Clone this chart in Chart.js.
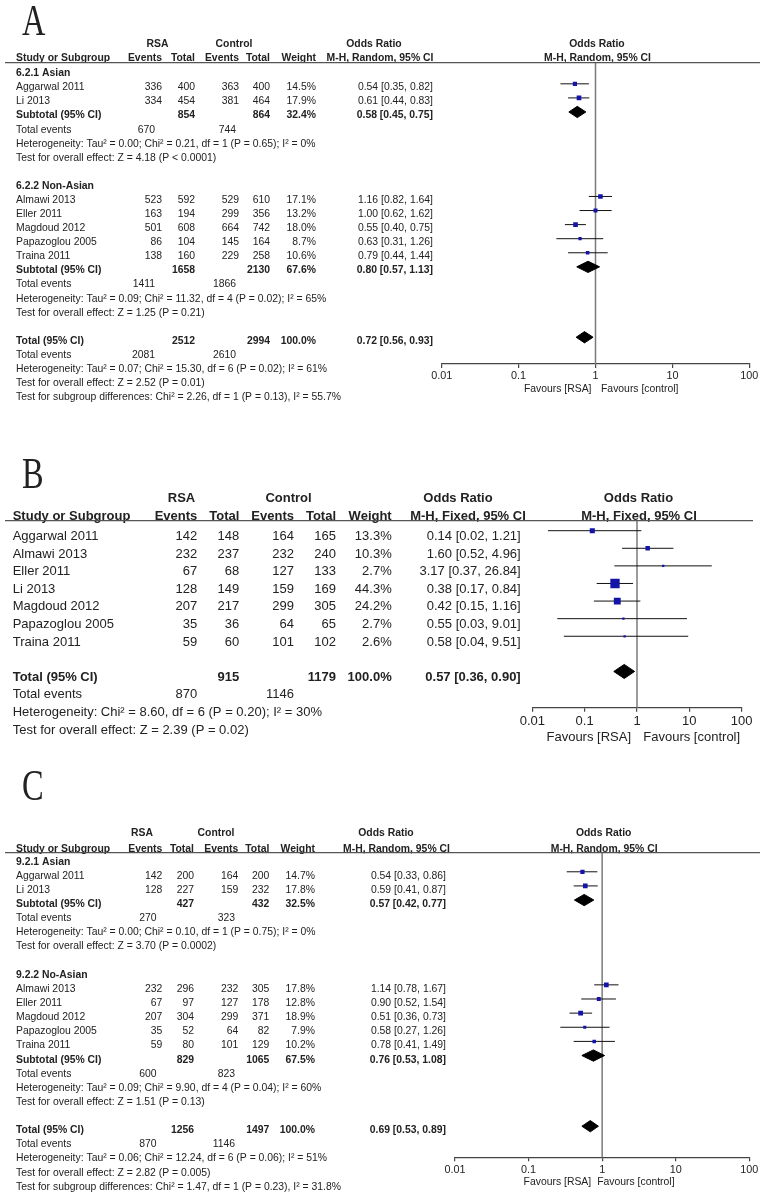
<!DOCTYPE html>
<html>
<head>
<meta charset="utf-8">
<script src="https://cdn.jsdelivr.net/npm/chart.js@4.4.1/dist/chart.umd.min.js"></script>
<style>
    body { margin: 0; background: #fff; width: 762px; height: 1199px; position: relative; overflow: hidden; }
    canvas { position: absolute; left: 0; }
</style>
</head>
<body>
<canvas id="chartA" width="762" height="410" style="top:0px"></canvas>
<canvas id="chartB" width="762" height="340" style="top:420px"></canvas>
<canvas id="chartC" width="762" height="439" style="top:760px"></canvas>
<script>
const SANS = '"Liberation Sans", Arial, sans-serif';
const SERIF = '"Liberation Serif", "Times New Roman", serif';

// Axis ticks (log scale of odds ratio)
const tickValues = [0.01, 0.1, 1, 10, 100];
const tickLabels = ["0.01", "0.1", "1", "10", "100"];

// ---------- Panel A : M-H, Random ----------
const studiesA = ["Aggarwal 2011", "Li 2013", "Almawi 2013", "Eller 2011", "Magdoud 2012", "Papazoglou 2005", "Traina 2011"];
const groupA = [0, 0, 1, 1, 1, 1, 1];
const rsaEventsA = [336, 334, 523, 163, 501, 86, 138];
const rsaTotalA = [400, 454, 592, 194, 608, 104, 160];
const ctlEventsA = [363, 381, 529, 299, 664, 145, 229];
const ctlTotalA = [400, 464, 610, 356, 742, 164, 258];
const weightA = [14.5, 17.9, 17.1, 13.2, 18.0, 8.7, 10.6];
const orA = [0.54, 0.61, 1.16, 1.00, 0.55, 0.63, 0.79];
const lowA = [0.35, 0.44, 0.82, 0.62, 0.40, 0.31, 0.44];
const highA = [0.82, 0.83, 1.64, 1.62, 0.75, 1.26, 1.44];
// subgroups + overall (last entry)
const subgroupsA = ["6.2.1 Asian", "6.2.2 Non-Asian"];
const poolRsaTotalA = [854, 1658, 2512];
const poolCtlTotalA = [864, 2130, 2994];
const poolWeightA = [32.4, 67.6, 100.0];
const poolOrA = [0.58, 0.80, 0.72];
const poolLowA = [0.45, 0.57, 0.56];
const poolHighA = [0.75, 1.13, 0.93];
const poolRsaEventsA = [670, 1411, 2081];
const poolCtlEventsA = [744, 1866, 2610];
const hetA = [
    "Heterogeneity: Tau² = 0.00; Chi² = 0.21, df = 1 (P = 0.65); I² = 0%",
    "Heterogeneity: Tau² = 0.09; Chi² = 11.32, df = 4 (P = 0.02); I² = 65%",
    "Heterogeneity: Tau² = 0.07; Chi² = 15.30, df = 6 (P = 0.02); I² = 61%",
];
const effectA = [
    "Test for overall effect: Z = 4.18 (P < 0.0001)",
    "Test for overall effect: Z = 1.25 (P = 0.21)",
    "Test for overall effect: Z = 2.52 (P = 0.01)",
];
const subgroupTestA = "Test for subgroup differences: Chi² = 2.26, df = 1 (P = 0.13), I² = 55.7%";

// ---------- Panel B : M-H, Fixed ----------
const studiesB = ["Aggarwal 2011", "Almawi 2013", "Eller 2011", "Li 2013", "Magdoud 2012", "Papazoglou 2005", "Traina 2011"];
const rsaEventsB = [142, 232, 67, 128, 207, 35, 59];
const rsaTotalB = [148, 237, 68, 149, 217, 36, 60];
const ctlEventsB = [164, 232, 127, 159, 299, 64, 101];
const ctlTotalB = [165, 240, 133, 169, 305, 65, 102];
const weightB = [13.3, 10.3, 2.7, 44.3, 24.2, 2.7, 2.6];
const orB = [0.14, 1.60, 3.17, 0.38, 0.42, 0.55, 0.58];
const lowB = [0.02, 0.52, 0.37, 0.17, 0.15, 0.03, 0.04];
const highB = [1.21, 4.96, 26.84, 0.84, 1.16, 9.01, 9.51];
const poolRsaTotalB = [915];
const poolCtlTotalB = [1179];
const poolWeightB = [100.0];
const poolOrB = [0.57];
const poolLowB = [0.36];
const poolHighB = [0.90];
const poolRsaEventsB = [870];
const poolCtlEventsB = [1146];
const hetB = ["Heterogeneity: Chi² = 8.60, df = 6 (P = 0.20); I² = 30%"];
const effectB = ["Test for overall effect: Z = 2.39 (P = 0.02)"];

// ---------- Panel C : M-H, Random ----------
const studiesC = ["Aggarwal 2011", "Li 2013", "Almawi 2013", "Eller 2011", "Magdoud 2012", "Papazoglou 2005", "Traina 2011"];
const groupC = [0, 0, 1, 1, 1, 1, 1];
const rsaEventsC = [142, 128, 232, 67, 207, 35, 59];
const rsaTotalC = [200, 227, 296, 97, 304, 52, 80];
const ctlEventsC = [164, 159, 232, 127, 299, 64, 101];
const ctlTotalC = [200, 232, 305, 178, 371, 82, 129];
const weightC = [14.7, 17.8, 17.8, 12.8, 18.9, 7.9, 10.2];
const orC = [0.54, 0.59, 1.14, 0.90, 0.51, 0.58, 0.78];
const lowC = [0.33, 0.41, 0.78, 0.52, 0.36, 0.27, 0.41];
const highC = [0.86, 0.87, 1.67, 1.54, 0.73, 1.26, 1.49];
const subgroupsC = ["9.2.1 Asian", "9.2.2 No-Asian"];
const poolRsaTotalC = [427, 829, 1256];
const poolCtlTotalC = [432, 1065, 1497];
const poolWeightC = [32.5, 67.5, 100.0];
const poolOrC = [0.57, 0.76, 0.69];
const poolLowC = [0.42, 0.53, 0.53];
const poolHighC = [0.77, 1.08, 0.89];
const poolRsaEventsC = [270, 600, 870];
const poolCtlEventsC = [323, 823, 1146];
const hetC = [
    "Heterogeneity: Tau² = 0.00; Chi² = 0.10, df = 1 (P = 0.75); I² = 0%",
    "Heterogeneity: Tau² = 0.09; Chi² = 9.90, df = 4 (P = 0.04); I² = 60%",
    "Heterogeneity: Tau² = 0.06; Chi² = 12.24, df = 6 (P = 0.06); I² = 51%",
];
const effectC = [
    "Test for overall effect: Z = 3.70 (P = 0.0002)",
    "Test for overall effect: Z = 1.51 (P = 0.13)",
    "Test for overall effect: Z = 2.82 (P = 0.005)",
];
const subgroupTestC = "Test for subgroup differences: Chi² = 1.47, df = 1 (P = 0.23), I² = 31.8%";

// Layout of each panel (page pixels)
const layoutA = {
    canvas: "chartA", top: 0, height: 410, method: "M-H, Random, 95% CI",
    axisLeft: 441.7, axisRight: 749.3, areaTop: 62.7, areaBottom: 364, yMin: -0.5, yMax: 20.9,
    font: 10.4, tickFont: 10.8, textOff: 6.5, labelX: 16,
    cols: [162, 195, 239, 270, 316], orRight: 433, evCols: [155, 236],
    rsaHead: 157.5, ctlHead: 234, orHead1: 374, orHead2: 380, head1: -16, head2: -1.5,
    favRsa: -4, favCtl: 5.5, favOff: 24, letter: "A", letterY: 35, k: 1.1, ruleEnd: 760,
};
const layoutB = {
    canvas: "chartB", top: 420, height: 340, method: "M-H, Fixed, 95% CI",
    axisLeft: 532.3, axisRight: 741.7, areaTop: 520.7, areaBottom: 707.7, yMin: -0.568, yMax: 10.06,
    font: 13, tickFont: 13, textOff: 9.3, labelX: 12.7,
    cols: [197.3, 239.3, 294, 336, 391.7], orRight: 520.7, evCols: [197.3, 294],
    rsaHead: 181.5, ctlHead: 288.5, orHead1: 458, orHead2: 468, head1: -18.4, head2: -0.5,
    favRsa: -6, favCtl: 6.3, favOff: 29, letter: "B", letterY: 488, k: 1.4, ruleEnd: 753,
};
const layoutC = {
    canvas: "chartC", top: 760, height: 439, method: "M-H, Random, 95% CI",
    axisLeft: 455, axisRight: 749.3, areaTop: 852.7, areaBottom: 1157.3, yMin: -0.35, yMax: 21.2,
    font: 10.4, tickFont: 10.8, textOff: 7, labelX: 16,
    cols: [162.3, 194, 238.3, 269.3, 315], orRight: 446, evCols: [156.5, 235],
    rsaHead: 142, ctlHead: 216, orHead1: 386, orHead2: 396.5, head1: -16.3, head2: -1,
    favRsa: -11, favCtl: -5, favOff: 24.4, letter: "C", letterY: 800, k: 1.1, ruleEnd: 760,
};

// Row list: group header, studies, subtotal, events, notes ... then total
function buildRows(d) {
    const rows = [];
    let r = 0;
    if (d.subgroups.length) {
        d.subgroups.forEach((name, g) => {
            rows.push({ kind: "group", row: r++, text: name });
            d.studies.forEach((s, i) => {
                if (d.group[i] === g) rows.push({ kind: "study", row: r++, i });
            });
            rows.push({ kind: "pooled", row: r++, p: g, label: "Subtotal (95% CI)" });
            rows.push({ kind: "events", row: r++, p: g });
            rows.push({ kind: "note", row: r++, text: d.het[g] });
            rows.push({ kind: "note", row: r++, text: d.effect[g] });
            r++; // blank line between subgroups
        });
    } else {
        d.studies.forEach((s, i) => rows.push({ kind: "study", row: r++, i }));
        r++;
    }
    const t = d.subgroups.length;
    rows.push({ kind: "pooled", row: r++, p: t, label: "Total (95% CI)" });
    rows.push({ kind: "events", row: r++, p: t });
    rows.push({ kind: "note", row: r++, text: d.het[t] });
    rows.push({ kind: "note", row: r++, text: d.effect[t] });
    if (d.subgroupTest) rows.push({ kind: "note", row: r++, text: d.subgroupTest });
    return rows;
}

function ciText(o, l, h) {
    return `${o.toFixed(2)} [${l.toFixed(2)}, ${h.toFixed(2)}]`;
}

function buildDatasets(d, rows, lay) {
    const sets = [];
    // line of no effect (drawn underneath everything)
    sets.push({
        data: [{ x: 1, y: lay.yMin }, { x: 1, y: lay.yMax }],
        borderColor: "#7a7a7a", borderWidth: 1.5, pointRadius: 0, order: 10,
    });
    const squares = [];
    rows.forEach((row) => {
        if (row.kind === "study") {
            const i = row.i;
            sets.push({
                data: [{ x: d.low[i], y: row.row }, { x: d.high[i], y: row.row }],
                borderColor: "#111", borderWidth: 1, pointRadius: 0, order: 5,
            });
            squares.push({ x: d.or[i], y: row.row, w: d.weight[i] });
        } else if (row.kind === "pooled") {
            const p = row.p;
            sets.push({
                data: [
                    { x: d.poolLow[p], y: row.row },
                    { x: d.poolOr[p], y: row.row - 0.4 },
                    { x: d.poolHigh[p], y: row.row },
                    { x: d.poolOr[p], y: row.row + 0.4 },
                    { x: d.poolLow[p], y: row.row },
                ],
                borderColor: "#000", backgroundColor: "#000", borderWidth: 1,
                pointRadius: 0, fill: "shape", order: 1,
            });
        }
    });
    sets.push({
        data: squares, showLine: false, pointStyle: "rect", order: 0,
        pointBackgroundColor: "#1414a8", pointBorderWidth: 0,
        pointRadius: (c) => Math.max(2, lay.k * Math.sqrt(c.raw.w)) / Math.SQRT2,
    });
    return sets;
}

function tablePlugin(d, rows, lay) {
    return {
        id: "forestTable",
        afterDraw(chart) {
            const ctx = chart.ctx;
            const ys = chart.scales.y;
            const xs = chart.scales.x;
            const f = lay.font;
            const put = (s, px, py, align, bold) => {
                ctx.font = (bold ? "bold " : "") + f + "px " + SANS;
                ctx.textAlign = align;
                ctx.fillText(s, px, py);
            };
            ctx.save();
            ctx.fillStyle = "#222";
            ctx.textBaseline = "alphabetic";

            // panel letter
            ctx.save();
            ctx.font = "45px " + SERIF;
            ctx.scale(0.72, 1);
            ctx.textAlign = "left";
            ctx.fillText(lay.letter, 22 / 0.72, lay.letterY - lay.top);
            ctx.restore();

            // headers
            const top = chart.chartArea.top;
            const x1 = xs.getPixelForValue(1);
            const h1 = top + lay.head1;
            const h2 = top + lay.head2;
            put("RSA", lay.rsaHead, h1, "center", true);
            put("Control", lay.ctlHead, h1, "center", true);
            put("Odds Ratio", lay.orHead1, h1, "center", true);
            put("Odds Ratio", x1 + 1.5, h1, "center", true);
            put("Study or Subgroup", lay.labelX, h2, "left", true);
            put("Events", lay.cols[0], h2, "right", true);
            put("Total", lay.cols[1], h2, "right", true);
            put("Events", lay.cols[2], h2, "right", true);
            put("Total", lay.cols[3], h2, "right", true);
            put("Weight", lay.cols[4], h2, "right", true);
            put(lay.method, lay.orHead2, h2, "center", true);
            put(lay.method, x1 + 2, h2, "center", true);

            ctx.strokeStyle = "#555";
            ctx.lineWidth = 1.2;
            ctx.beginPath();
            ctx.moveTo(5, top);
            ctx.lineTo(lay.ruleEnd, top);
            ctx.stroke();

            // rows of the table
            rows.forEach((row) => {
                const y = ys.getPixelForValue(row.row) + lay.textOff;
                if (row.kind === "group") {
                    put(row.text, lay.labelX, y, "left", true);
                } else if (row.kind === "study") {
                    const i = row.i;
                    put(d.studies[i], lay.labelX, y, "left", false);
                    put(String(d.rsaEvents[i]), lay.cols[0], y, "right", false);
                    put(String(d.rsaTotal[i]), lay.cols[1], y, "right", false);
                    put(String(d.ctlEvents[i]), lay.cols[2], y, "right", false);
                    put(String(d.ctlTotal[i]), lay.cols[3], y, "right", false);
                    put(d.weight[i].toFixed(1) + "%", lay.cols[4], y, "right", false);
                    put(ciText(d.or[i], d.low[i], d.high[i]), lay.orRight, y, "right", false);
                } else if (row.kind === "pooled") {
                    const p = row.p;
                    put(row.label, lay.labelX, y, "left", true);
                    put(String(d.poolRsaTotal[p]), lay.cols[1], y, "right", true);
                    put(String(d.poolCtlTotal[p]), lay.cols[3], y, "right", true);
                    put(d.poolWeight[p].toFixed(1) + "%", lay.cols[4], y, "right", true);
                    put(ciText(d.poolOr[p], d.poolLow[p], d.poolHigh[p]), lay.orRight, y, "right", true);
                } else if (row.kind === "events") {
                    const p = row.p;
                    put("Total events", lay.labelX, y, "left", false);
                    put(String(d.poolRsaEvents[p]), lay.evCols[0], y, "right", false);
                    put(String(d.poolCtlEvents[p]), lay.evCols[1], y, "right", false);
                } else {
                    put(row.text, lay.labelX, y, "left", false);
                }
            });

            // favours labels under the axis
            const fy = chart.chartArea.bottom + lay.favOff + f * 0.36;
            put("Favours [RSA]", x1 + lay.favRsa, fy, "right", false);
            put("Favours [control]", x1 + lay.favCtl, fy, "left", false);
            ctx.restore();
        },
    };
}

function renderPanel(d, lay) {
    const rows = buildRows(d);
    const axisH = 4 + 2 * 2 + lay.tickFont * 1.2;
    const ctx = document.getElementById(lay.canvas).getContext("2d");
    new Chart(ctx, {
        type: "line",
        data: { datasets: buildDatasets(d, rows, lay) },
        options: {
            responsive: false,
            animation: false,
            events: [],
            layout: {
                padding: {
                    left: lay.axisLeft,
                    right: 762 - lay.axisRight,
                    top: lay.areaTop - lay.top,
                    bottom: lay.height - (lay.areaBottom - lay.top) - axisH,
                },
            },
            plugins: { legend: { display: false }, tooltip: { enabled: false } },
            scales: {
                x: {
                    type: "logarithmic",
                    position: "bottom",
                    min: tickValues[0],
                    max: tickValues[tickValues.length - 1],
                    afterBuildTicks: (scale) => {
                        scale.ticks = tickValues.map((v) => ({ value: v }));
                    },
                    ticks: {
                        autoSkip: false, maxRotation: 0, padding: 2, color: "#222",
                        font: { family: SANS, size: lay.tickFont },
                        callback: (v, i) => tickLabels[i],
                    },
                    grid: { drawOnChartArea: false, drawTicks: true, tickLength: 4, color: "#444", lineWidth: 1.2 },
                    border: { display: true, color: "#444", width: 1.2 },
                },
                y: { type: "linear", reverse: true, min: lay.yMin, max: lay.yMax, display: false },
            },
        },
        plugins: [tablePlugin(d, rows, lay)],
    });
}

// Panel data bundles
renderPanel({
    studies: studiesA, group: groupA, subgroups: subgroupsA,
    rsaEvents: rsaEventsA, rsaTotal: rsaTotalA, ctlEvents: ctlEventsA, ctlTotal: ctlTotalA,
    weight: weightA, or: orA, low: lowA, high: highA,
    poolRsaTotal: poolRsaTotalA, poolCtlTotal: poolCtlTotalA, poolWeight: poolWeightA,
    poolOr: poolOrA, poolLow: poolLowA, poolHigh: poolHighA,
    poolRsaEvents: poolRsaEventsA, poolCtlEvents: poolCtlEventsA,
    het: hetA, effect: effectA, subgroupTest: subgroupTestA,
}, layoutA);

renderPanel({
    studies: studiesB, group: [], subgroups: [],
    rsaEvents: rsaEventsB, rsaTotal: rsaTotalB, ctlEvents: ctlEventsB, ctlTotal: ctlTotalB,
    weight: weightB, or: orB, low: lowB, high: highB,
    poolRsaTotal: poolRsaTotalB, poolCtlTotal: poolCtlTotalB, poolWeight: poolWeightB,
    poolOr: poolOrB, poolLow: poolLowB, poolHigh: poolHighB,
    poolRsaEvents: poolRsaEventsB, poolCtlEvents: poolCtlEventsB,
    het: hetB, effect: effectB, subgroupTest: null,
}, layoutB);

renderPanel({
    studies: studiesC, group: groupC, subgroups: subgroupsC,
    rsaEvents: rsaEventsC, rsaTotal: rsaTotalC, ctlEvents: ctlEventsC, ctlTotal: ctlTotalC,
    weight: weightC, or: orC, low: lowC, high: highC,
    poolRsaTotal: poolRsaTotalC, poolCtlTotal: poolCtlTotalC, poolWeight: poolWeightC,
    poolOr: poolOrC, poolLow: poolLowC, poolHigh: poolHighC,
    poolRsaEvents: poolRsaEventsC, poolCtlEvents: poolCtlEventsC,
    het: hetC, effect: effectC, subgroupTest: subgroupTestC,
}, layoutC);
</script>
</body>
</html>
